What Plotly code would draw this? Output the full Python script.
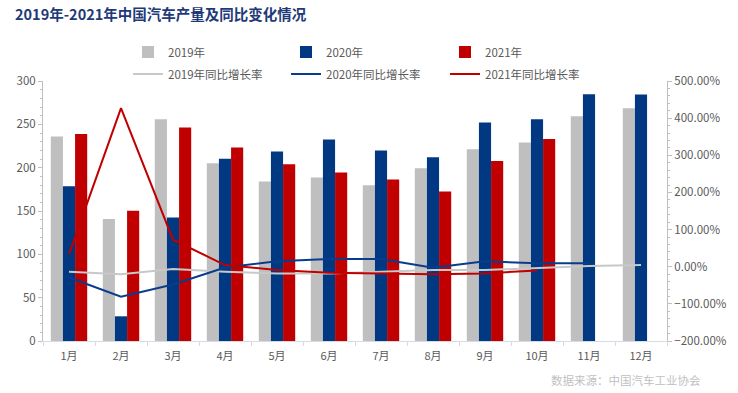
import plotly.graph_objects as go

months = ["1月", "2月", "3月", "4月", "5月", "6月", "7月", "8月", "9月", "10月", "11月", "12月"]

prod_2019 = [236.0, 140.7, 256.0, 205.2, 184.0, 188.6, 179.7, 199.2, 221.3, 229.0, 259.2, 268.6]
prod_2020 = [178.5, 28.5, 142.6, 210.2, 218.7, 232.5, 219.9, 211.9, 252.0, 255.8, 284.7, 284.3]
prod_2021 = [238.8, 150.3, 246.4, 223.4, 204.0, 194.3, 186.3, 172.5, 207.7, 233.1, None, None]

yoy_2019 = [-13.5, -20.5, -6.0, -13.5, -18.0, -18.0, -13.5, -9.0, -9.0, -2.7, 2.0, 4.5]
yoy_2020 = [-29.0, -80.5, -48.0, -2.0, 15.0, 20.5, 20.5, -2.7, 15.0, 9.0, 9.0, None]
yoy_2021 = [33.8, 427.0, 72.8, 4.5, -9.0, -16.0, -18.0, -20.5, -18.0, -10.0, None, None]

GRAY = "#BFBFBF"
BLUE = "#003882"
RED = "#C00000"
FONT = "Noto Sans CJK SC"
TXT = "#595959"

fig = go.Figure()
bar_specs = [("2019年", prod_2019, GRAY), ("2020年", prod_2020, BLUE), ("2021年", prod_2021, RED)]
line_specs = [("2019年同比增长率", yoy_2019, "#C8C8C8"), ("2020年同比增长率", yoy_2020, "#0A3C8C"),
              ("2021年同比增长率", yoy_2021, RED)]

for i, (name, vals, col) in enumerate(bar_specs):
    fig.add_trace(go.Bar(x=months, y=vals, name=name, marker=dict(color=col, line=dict(width=0)),
                         legend="legend" if i == 0 else f"legend{i + 1}"))

for i, (name, vals, col) in enumerate(line_specs):
    fig.add_trace(go.Scatter(x=months, y=vals, name=name, mode="lines", yaxis="y2",
                             line=dict(color=col, width=2), legend=f"legend{i + 4}"))

L, R, T, B = 43, 71, 81, 52
PW, PH = 738 - L - R, 393 - T - B
col_x = [128, 286, 445]
row_y = [52, 74]
legends = {}
for k in range(6):
    key = "legend" if k == 0 else f"legend{k + 1}"
    legends[key] = dict(x=(col_x[k % 3] - L) / PW, xanchor="left",
                        y=(393 - B - row_y[k // 3]) / PH, yanchor="middle",
                        font=dict(family=FONT, size=11.5, color=TXT),
                        itemwidth=30, bgcolor="rgba(0,0,0,0)", borderwidth=0)

fig.update_layout(
    width=738, height=393,
    margin=dict(l=L, r=R, t=T, b=B, autoexpand=False),
    paper_bgcolor="white", plot_bgcolor="white",
    font=dict(family=FONT, size=11, color=TXT),
    barmode="group", bargap=0.3, bargroupgap=0,
    title=dict(text="<b>2019年-2021年中国汽车产量及同比变化情况</b>", x=15 / 738, xanchor="left",
               y=1 - 15 / 393, yanchor="middle", font=dict(family=FONT, size=14.5, color="#1F3A78")),
    xaxis=dict(type="category", showgrid=False, showline=True, linecolor="#D6DCE5", linewidth=1,
               ticks="outside", tickson="boundaries", ticklen=4, tickcolor="#D6DCE5",
               ticklabelstandoff=5, tickfont=dict(size=11, color=TXT)),
    yaxis=dict(range=[0, 300], dtick=50, showgrid=False, showline=True, linecolor="#BFBFBF",
               ticks="outside", ticklen=4, tickcolor="#BFBFBF", zeroline=False,
               minor=dict(dtick=10, ticks="outside", ticklen=2, tickcolor="#BFBFBF"),
               tickfont=dict(size=11.5, color=TXT)),
    yaxis2=dict(range=[-200, 500], dtick=100, overlaying="y", side="right", showgrid=False,
                showline=True, linecolor="#BFBFBF", ticks="outside", ticklen=4, tickcolor="#BFBFBF",
                zeroline=False, tickformat=".2f", ticksuffix="%",
                minor=dict(dtick=20, ticks="outside", ticklen=2, tickcolor="#BFBFBF"),
                tickfont=dict(size=11.5, color=TXT)),
    showlegend=True,
    **legends,
)

fig.add_annotation(text="数据来源：中国汽车工业协会", xref="paper", yref="paper", x=(703 - L) / PW,
                   xanchor="right", y=(393 - B - 380) / PH, yanchor="middle", showarrow=False,
                   font=dict(family=FONT, size=11.5, color="#BFBFBF"))

fig.write_html("out.html", config={"displayModeBar": False},
               post_script="document.body.style.margin='0';")
